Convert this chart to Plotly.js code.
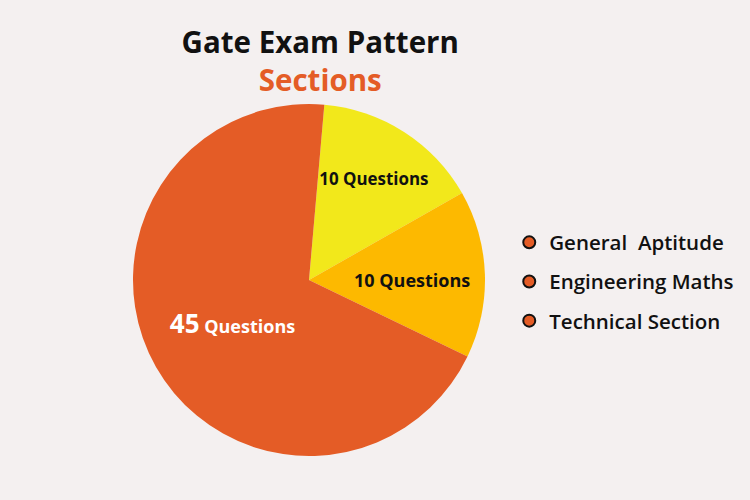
<!DOCTYPE html>
<html>
<head>
<meta charset="utf-8">
<script src="https://cdn.plot.ly/plotly-3.0.1.min.js"></script>
<style>html,body{margin:0;padding:0;background:#F4F0F0;}</style>
</head>
<body>
<div id="chart" style="width:750px;height:500px;"></div>
<script>
const sections = ["General  Aptitude", "Engineering Maths", "Technical Section"];
const questions = [10, 10, 45];
const sliceLabels = ["10 Questions", "10 Questions", "<span style=\"font-size:26px\">45</span> Questions"];
const sliceColors = ["#F2E81B", "#FDB900", "#E45C26"];
const labelColors = ["#111111", "#111111", "#FFFFFF"];
const legendColor = "#E45C26";

const pie = {
  type: "pie",
  values: questions,
  labels: sections,
  text: sliceLabels,
  textinfo: "text",
  textposition: "inside",
  insidetextorientation: "horizontal",
  textfont: {family: "Open Sans, sans-serif", size: 18, color: labelColors, weight: 700},
  marker: {colors: sliceColors, line: {width: 0}},
  sort: false,
  direction: "clockwise",
  rotation: 5,
  showlegend: false,
  hoverinfo: "label+value",
  domain: {x: [0.177, 0.647], y: [0.088, 0.792]}
};

const legendTraces = sections.map((s, i) => ({
  type: "scatter",
  mode: "markers",
  x: [null], y: [null],
  name: s,
  legendgroup: "g" + i,
  marker: {color: legendColor, size: 18, line: {color: "#111", width: 3.5}},
  showlegend: true
}));

const layout = {
  width: 750, height: 500,
  margin: {l: 0, r: 0, t: 0, b: 0},
  paper_bgcolor: "#F4F0F0",
  plot_bgcolor: "#F4F0F0",
  title: {
    text: "<b>Gate Exam Pattern</b><br><b><span style=\"color:#E45C26\">Sections</span></b>",
    font: {family: "Open Sans, sans-serif", size: 29.5, color: "#111"},
    x: 0.427, xanchor: "center", xref: "container",
    y: 0.895, yanchor: "top", yref: "container"
  },
  xaxis: {visible: false},
  yaxis: {visible: false},
  legend: {
    x: 0.679, xanchor: "left", y: 0.555, yanchor: "top",
    font: {family: "Open Sans, sans-serif", size: 20.5, color: "#111", weight: 600},
    tracegroupgap: 9.5,
    itemsizing: "constant",
    bgcolor: "rgba(0,0,0,0)"
  },
  showlegend: true
};

Plotly.newPlot("chart", [pie, ...legendTraces], layout, {displayModeBar: false});
</script>
</body>
</html>
